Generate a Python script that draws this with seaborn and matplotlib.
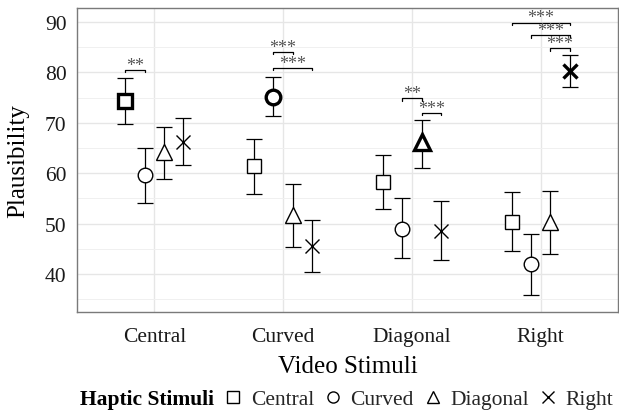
import numpy as np
import pandas as pd
import matplotlib
matplotlib.use("Agg")
import matplotlib.pyplot as plt
from matplotlib.lines import Line2D
from matplotlib.ticker import MultipleLocator
import seaborn as sns

# ---------------- data ----------------
video = ["Central", "Curved", "Diagonal", "Right"]
haptic = ["Central", "Curved", "Diagonal", "Right"]

mean_central = [74.4, 61.4, 58.3, 50.4]
lo_central = [69.7, 55.8, 52.8, 44.5]
hi_central = [79.0, 66.8, 63.7, 56.3]

mean_curved = [59.6, 75.2, 49.0, 41.9]
lo_curved = [54.0, 71.3, 43.1, 35.8]
hi_curved = [65.1, 79.1, 55.0, 48.0]

mean_diagonal = [64.2, 51.8, 66.1, 50.4]
lo_diagonal = [58.9, 45.4, 61.1, 44.0]
hi_diagonal = [69.1, 57.9, 70.6, 56.5]

mean_right = [66.2, 45.5, 48.5, 80.2]
lo_right = [61.7, 40.4, 42.8, 77.1]
hi_right = [71.0, 50.7, 54.5, 83.5]

# significance brackets
sig_video = ["Central", "Curved", "Curved", "Diagonal", "Diagonal", "Right", "Right", "Right"]
sig_from = ["Central", "Curved", "Curved", "Curved", "Diagonal", "Central", "Curved", "Diagonal"]
sig_to = ["Curved", "Diagonal", "Right", "Diagonal", "Right", "Right", "Right", "Right"]
sig_y = [80.5, 84.1, 80.9, 74.9, 72.0, 89.9, 87.4, 84.8]
sig_label = ["**", "***", "***", "**", "***", "***", "***", "***"]

rows = []
for h, m, lo, hi in zip(haptic,
                        [mean_central, mean_curved, mean_diagonal, mean_right],
                        [lo_central, lo_curved, lo_diagonal, lo_right],
                        [hi_central, hi_curved, hi_diagonal, hi_right]):
    for v, mm, l, u in zip(video, m, lo, hi):
        rows.append(dict(video=v, haptic=h, mean=mm, lo=l, hi=u))
df = pd.DataFrame(rows)

# ---------------- style ----------------
sns.set_theme(style="whitegrid")
plt.rcParams["font.family"] = ["Liberation Serif", "DejaVu Serif"]

fig = plt.figure(figsize=(6.19, 4.14), dpi=100)
ax = fig.add_axes([77 / 619, 1 - 313 / 414, (618 - 77) / 619, (313 - 9) / 414])

dodge = dict(zip(haptic, [-0.225, -0.075, 0.075, 0.225]))
vpos = {v: i for i, v in enumerate(video)}
markers = dict(zip(haptic, ["s", "o", "^", "x"]))
msize = dict(zip(haptic, [9.5, 10.5, 12.0, 10.5]))

df["x"] = df["video"].map(vpos) + df["haptic"].map(dodge)

for _, r in df.iterrows():
    ax.errorbar(r["x"], r["mean"], yerr=[[r["mean"] - r["lo"]], [r["hi"] - r["mean"]]],
                fmt="none", ecolor="black", elinewidth=0.9, capsize=6, capthick=0.9, zorder=3)
    bold = r["video"] == r["haptic"]
    ax.plot(r["x"], r["mean"], marker=markers[r["haptic"]], ls="none",
            ms=msize[r["haptic"]], mfc="white" if markers[r["haptic"]] != "x" else "none",
            mec="black", mew=2.4 if bold else 1.0, zorder=4)

for v, a, b, y, lab in zip(sig_video, sig_from, sig_to, sig_y, sig_label):
    x1 = vpos[v] + dodge[a]
    x2 = vpos[v] + dodge[b]
    ax.plot([x1, x1, x2, x2], [y - 0.5, y, y, y - 0.5], color="black", lw=0.9, zorder=5)
    ax.text((x1 + x2) / 2, y + 0.05, lab, ha="center", va="baseline", fontsize=13,
            color="#555555", zorder=5)

ax.set_xlim(-0.6, 3.6)
ax.set_ylim(32.45, 92.8)
ax.set_xticks(range(len(video)))
ax.set_xticklabels(video)
ax.yaxis.set_major_locator(MultipleLocator(10))
ax.yaxis.set_minor_locator(MultipleLocator(5))
ax.set_yticks([40, 50, 60, 70, 80, 90])

ax.grid(True, which="major", color="#e6e6e6", lw=1.0)
ax.grid(True, which="minor", axis="y", color="#f0f0f0", lw=0.7)
ax.grid(False, which="minor", axis="x")
ax.set_axisbelow(True)
for s in ax.spines.values():
    s.set_color("#7a7a7a")
    s.set_linewidth(1.0)
ax.tick_params(axis="x", which="major", length=3.5, width=0.9, color="#7a7a7a",
               labelsize=15.5, labelcolor="#1a1a1a", pad=7.5)
ax.tick_params(axis="y", which="major", length=3.5, width=0.9, color="#7a7a7a",
               labelsize=15.5, labelcolor="#1a1a1a", pad=4)
ax.tick_params(axis="both", which="minor", length=0)
ax.set_xlabel("Video Stimuli", fontsize=18, color="black", labelpad=6)
ax.set_ylabel("Plausibility", fontsize=18, color="black", labelpad=11)

# legend
fig.text(80 / 619, 1 - 400 / 414, "Haptic Stimuli", fontsize=15.5, fontweight="bold",
         ha="left", va="center", color="black")
handles = [Line2D([], [], marker=markers[h], ls="none", ms=8, mfc="none", mec="black", mew=1.0)
           for h in haptic]
fig.legend(handles, haptic, ncol=4, loc="center left", bbox_to_anchor=(222 / 619, 1 - 400 / 414),
           frameon=False, handlelength=1.0, handletextpad=0.33, columnspacing=0.37,
           borderpad=0, borderaxespad=0, fontsize=15.5)

fig.savefig("out.png", dpi=100)
